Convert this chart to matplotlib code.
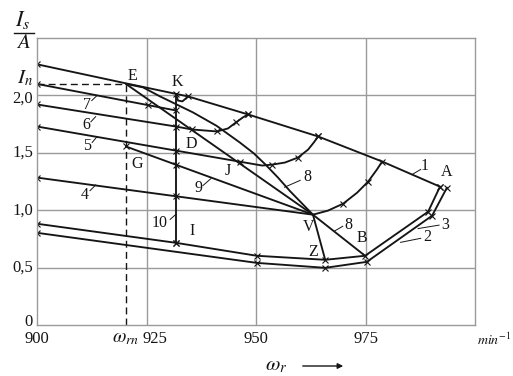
import matplotlib
matplotlib.use("Agg")
import matplotlib.pyplot as plt
import numpy as np

plt.rcParams['font.family'] = ['Liberation Serif', 'DejaVu Serif']
plt.rcParams['mathtext.fontset'] = 'stix'

# ---------------- data ----------------
w_rn = 920.3          # rated speed, min^-1
I_n = 2.10            # rated current, A

# characteristic 1 (top)
c1_x = [900, 920.3, 934.5, 948.2, 964.2, 978.8, 992.0]
c1_y = [2.271, 2.105, 1.991, 1.834, 1.642, 1.424, 1.205]
c1_marks = [900, 931.7, 934.5, 948.2, 964.2, 978.8, 992.0]

# characteristic 7
c7_x = [900, 931.7]
c7_y = [2.10, 1.869]
c7_marks = [900, 925.3, 931.7]
# small arc near K
k_arc_x = [931.7, 932.2, 933.2, 934.5]
k_arc_y = [2.013, 1.955, 1.948, 1.991]

# characteristic 6 (with arc up to line 1)
c6_x = [900, 931.7, 935.4, 941.1, 943.6, 945.4, 947.0, 948.2]
c6_y = [1.921, 1.729, 1.703, 1.686, 1.712, 1.764, 1.808, 1.834]
c6_marks = [900, 931.7, 935.4, 941.1, 945.4, 948.2]

# characteristic 5 (with arc up to line 1)
c5_x = [900, 951.4, 953.7, 956.6, 959.6, 961.9, 963.2, 964.2]
c5_y = [1.729, 1.389, 1.397, 1.415, 1.459, 1.528, 1.590, 1.642]
c5_marks = [900, 931.7, 946.3, 953.7, 959.6, 964.2]

# characteristic 4 (ends in V)
V_pt = (963.0, 0.961)
c4_x = [900, V_pt[0]]
c4_y = [1.284, V_pt[1]]
c4_marks = [900, 931.7]

# line 9 from G to V
c9_x = [w_rn, V_pt[0]]
c9_y = [1.555, V_pt[1]]
c9_marks = [w_rn, 931.7]

# straight line E -> V
ev_x = [w_rn, V_pt[0]]
ev_y = [I_n, V_pt[1]]

# curve 8: E -> V -> B
c8_x = [w_rn, 924.2, 928.1, 935.6, 941.0, 946.3, 949.5, 952.1, 955.0, 957.8, 963.0, 974.9]
c8_y = [I_n, 2.07, 1.991, 1.852, 1.735, 1.590, 1.495, 1.400, 1.285, 1.165, 0.961, 0.603]

# V -> Z
vz_x = [963.0, 965.8]
vz_y = [0.961, 0.568]

# arc from V up to line 1
va_x = [963.0, 966.4, 969.9, 973.1, 975.6, 977.6, 978.8]
va_y = [0.961, 0.996, 1.057, 1.153, 1.249, 1.354, 1.424]
va_marks = [969.9, 975.6]

# line 10 (constant speed) I -> K
c10_x = [931.7, 931.7]
c10_y = [0.716, 2.013]

# lower curves 2 and 3
c3_x = [900, 931.7, 950.2, 965.8, 974.9, 989.3, 992.0]
c3_y = [0.882, 0.716, 0.603, 0.568, 0.603, 0.987, 1.205]
c3_marks = [900, 931.7, 950.2, 965.8, 974.9, 989.3, 992.0]
c2_x = [900, 950.2, 965.8, 975.3, 990.2, 993.6]
c2_y = [0.803, 0.541, 0.498, 0.550, 0.952, 1.197]
c2_marks = [900, 950.2, 965.8, 975.3, 990.2, 993.6]

x_ticks = [900, 950, 975]
y_ticks = [0.03, 0.5, 1.0, 1.5, 1.975]
y_tick_labels = ["0", "0,5", "1,0", "1,5", "2,0"]

# point labels: (text, x, y)
point_labels = [("E", 921.7, 2.17), ("K", 932.0, 2.12), ("D", 935.2, 1.575),
                ("G", 922.8, 1.40), ("J", 943.6, 1.34), ("I", 935.4, 0.815),
                ("V", 961.9, 0.85), ("Z", 963.0, 0.64), ("B", 974.2, 0.76),
                ("A", 993.6, 1.33)]
# curve numbers with leader: (text, x, y, leader x0, y0, x1, y1)
curve_labels = [("7", 911.4, 1.92, 912.5, 1.955, 913.6, 1.995),
                ("6", 911.2, 1.74, 912.3, 1.77, 913.4, 1.815),
                ("5", 911.4, 1.555, 912.6, 1.59, 913.7, 1.64),
                ("4", 911.0, 1.135, 912.1, 1.17, 913.4, 1.22),
                ("10", 928.0, 0.89, 930.4, 0.92, 931.6, 0.96),
                ("9", 936.8, 1.19, 937.9, 1.215, 939.7, 1.275),
                ("8", 961.8, 1.285, 960.1, 1.26, 956.5, 1.20),
                ("8", 971.0, 0.875, 969.8, 0.86, 968.0, 0.82),
                ("1", 988.6, 1.385, 987.6, 1.355, 985.6, 1.31),
                ("2", 989.0, 0.77, 987.6, 0.755, 983.0, 0.72),
                ("3", 993.2, 0.875, 991.8, 0.87, 987.0, 0.84)]

INK = '#151515'
GRID = '#9a9a9a'

fig = plt.figure(figsize=(5.13, 3.76), dpi=100)
ax = fig.add_axes([37 / 513, 1 - 325 / 376, 438 / 513, 287 / 376])
ax.set_xlim(900, 1000)
ax.set_ylim(0, 2.5)
ax.set_xticks([])
ax.set_yticks([])
for s in ax.spines.values():
    s.set_color(GRID)
    s.set_linewidth(1.0)
for xv in [925, 950, 975]:
    ax.axvline(xv, color=GRID, lw=1.0, zorder=0)
for yv in [0.5, 1.0, 1.5, 2.0]:
    ax.axhline(yv, color=GRID, lw=1.0, zorder=0)

# dashed rated lines
ax.plot([900, w_rn], [I_n, I_n], color=INK, lw=1.0, ls=(0, (5, 3)))
ax.plot([w_rn, w_rn], [0, I_n], color=INK, lw=1.0, ls=(0, (5, 3)))

lw = 1.35
def draw(xs, ys, marks=None):
    ax.plot(xs, ys, color=INK, lw=lw, solid_joinstyle='round', solid_capstyle='round')
    if marks is not None:
        my = np.interp(marks, xs, ys)
        ax.plot(marks, my, ls='none', marker='x', ms=4.5, mew=0.8, color=INK)

draw(c1_x, c1_y, c1_marks)
draw(c7_x, c7_y, c7_marks)
draw(k_arc_x, k_arc_y)
draw(c6_x, c6_y, c6_marks)
draw(c5_x, c5_y, c5_marks)
draw(c4_x, c4_y, c4_marks)
draw(c9_x, c9_y, c9_marks)
draw(ev_x, ev_y)
draw(c8_x, c8_y)
draw(vz_x, vz_y)
draw(va_x, va_y, va_marks)
draw(c10_x, c10_y)
ax.plot([931.7], [0.716], ls='none', marker='x', ms=4.5, mew=0.8, color=INK)
draw(c3_x, c3_y, c3_marks)
draw(c2_x, c2_y, c2_marks)

FS = 12
for t, x, y in point_labels:
    ax.text(x, y, t, fontsize=11.5, ha='center', va='center', color=INK)
for t, x, y, x0, y0, x1, y1 in curve_labels:
    ax.text(x, y, t, fontsize=11.5, ha='center', va='center', color=INK)
    ax.plot([x0, x1], [y0, y1], color=INK, lw=0.7)

# y tick labels
for yv, lab in zip(y_ticks, y_tick_labels):
    ax.text(899.1, yv, lab, fontsize=FS, ha='right', va='center', color=INK, clip_on=False)
ax.text(899.1, I_n + 0.045, r"$I_n$", fontsize=FS + 3, ha='right', va='center',
        color=INK, clip_on=False)
# x tick labels
for xv in x_ticks:
    ax.text(xv, -0.05, str(xv), fontsize=FS, ha='center', va='top', color=INK, clip_on=False)
ax.text(924.2, -0.05, "925", fontsize=FS, ha='left', va='top', color=INK, clip_on=False)
ax.text(w_rn, -0.04, r"$\omega_{rn}$", fontsize=FS + 2, ha='center', va='top', color=INK,
        clip_on=False)
ax.text(1000.4, -0.06, r"$min^{-1}$", fontsize=FS - 2, ha='left', va='top', color=INK,
        clip_on=False)

# axis titles
fig.text(23 / 513, 1 - 20 / 376, r"$I_s$", fontsize=FS + 4, ha='center',
         va='center', color=INK)
fig.add_artist(plt.Line2D([14 / 513, 34 / 513], [1 - 33 / 376, 1 - 33 / 376], color=INK, lw=1.0))
fig.text(23 / 513, 1 - 43 / 376, r"$A$", fontsize=FS + 3, ha='center',
         va='center', color=INK)
fig.text(276 / 513, 1 - 366 / 376, r"$\omega_r$", fontsize=FS + 3, ha='center', va='center',
         color=INK)
ax.annotate("", xy=(346 / 513, 1 - 366 / 376), xytext=(300 / 513, 1 - 366 / 376),
            xycoords='figure fraction', textcoords='figure fraction',
            arrowprops=dict(arrowstyle='-|>', color=INK, lw=1.0, mutation_scale=8))

fig.savefig("out.png", dpi=100)
